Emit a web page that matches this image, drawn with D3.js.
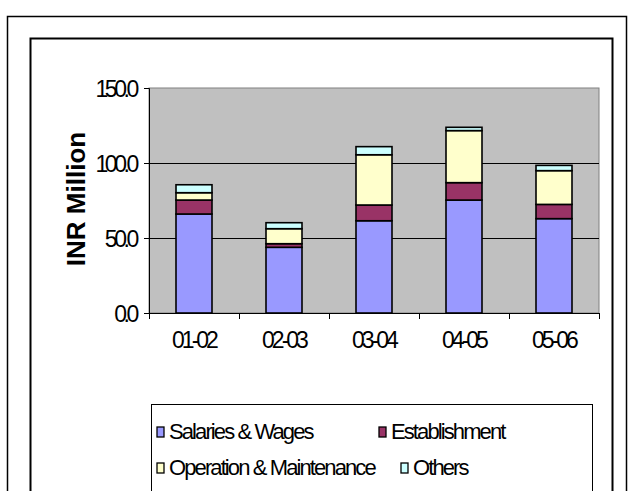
<!DOCTYPE html>
<html>
<head>
<meta charset="utf-8">
<script src="https://cdn.jsdelivr.net/npm/d3@7"></script>
<style>
  html, body { margin: 0; padding: 0; background: #fff; }
  svg { display: block; font-family: "Liberation Sans", Arial, sans-serif; }
</style>
</head>
<body>
<svg id="chart" width="632" height="491"></svg>
<script>
// Annual expenditure by head, INR million
const years = ["01-02", "02-03", "03-04", "04-05", "05-06"];
const salaries = [66.0, 43.8, 61.5, 75.3, 62.9];
const establishment = [9.3, 2.4, 10.5, 11.6, 9.5];
const operation = [4.9, 10.0, 33.5, 34.7, 22.5];
const others = [5.3, 4.0, 5.4, 2.2, 3.5];
const seriesNames = ["Salaries & Wages", "Establishment", "Operation & Maintenance", "Others"];
const seriesColors = ["#9999FF", "#993366", "#FFFFCC", "#CCFFFF"];
const yTicks = [0, 50, 100, 150];

const svg = d3.select("#chart");

// Outer and inner frames
svg.append("rect").attr("x", 7.5).attr("y", 16.5).attr("width", 619).attr("height", 490)
  .attr("fill", "#fff").attr("stroke", "#000").attr("stroke-width", 1.5);
svg.append("rect").attr("x", 30.5).attr("y", 38.5).attr("width", 582).attr("height", 470)
  .attr("fill", "#fff").attr("stroke", "#000").attr("stroke-width", 2);

const plot = { left: 149, right: 599, top: 88, bottom: 313 };

const x = d3.scaleBand().domain(years).range([plot.left, plot.right]).paddingInner(0.6).paddingOuter(0.3);
const xCat = d3.scaleBand().domain(years).range([plot.left, plot.right]);
const y = d3.scaleLinear().domain([0, 150]).range([plot.bottom, plot.top]);

// Plot background
svg.append("rect")
  .attr("x", plot.left).attr("y", plot.top)
  .attr("width", plot.right - plot.left).attr("height", plot.bottom - plot.top)
  .attr("fill", "#C0C0C0").attr("stroke", "#808080").attr("stroke-width", 1);

// Gridlines
svg.append("g").selectAll("line")
  .data(yTicks.filter(t => t > 0 && t < 150))
  .join("line")
  .attr("x1", plot.left).attr("x2", plot.right)
  .attr("y1", d => Math.round(y(d)) + 0.5).attr("y2", d => Math.round(y(d)) + 0.5)
  .attr("stroke", "#000").attr("stroke-width", 1);

// Stacked bars
const rows = years.map((yr, i) => ({
  year: yr, s0: salaries[i], s1: establishment[i], s2: operation[i], s3: others[i]
}));
const stack = d3.stack().keys(["s0", "s1", "s2", "s3"])(rows);

svg.append("g").selectAll("g")
  .data(stack)
  .join("g")
  .attr("fill", (d, i) => seriesColors[i])
  .selectAll("rect")
  .data(d => d)
  .join("rect")
  .attr("x", d => x(d.data.year))
  .attr("width", x.bandwidth())
  .attr("y", d => y(d[1]))
  .attr("height", d => y(d[0]) - y(d[1]))
  .attr("stroke", "#000").attr("stroke-width", 1.6);

// Y axis
const yAxis = svg.append("g")
  .attr("transform", `translate(${plot.left},0)`)
  .call(d3.axisLeft(y).tickValues(yTicks).tickFormat(d3.format(".1f")).tickSize(5).tickPadding(5));
yAxis.select(".domain").attr("stroke", "#000").attr("stroke-width", 1);
yAxis.selectAll(".tick line").attr("stroke", "#000");
yAxis.selectAll("text")
  .attr("font-size", 23).attr("fill", "#000")
  .attr("dy", "0.36em")
  .attr("dx", "-3px")
  .attr("font-family", "'Liberation Sans', Arial, sans-serif")
  .style("letter-spacing", "-3.4px");

// X axis with ticks between categories
const xAxis = svg.append("g").attr("transform", `translate(0,${plot.bottom})`);
xAxis.append("line")
  .attr("x1", plot.left).attr("x2", plot.right).attr("y1", 0.5).attr("y2", 0.5)
  .attr("stroke", "#000");
const bounds = years.map(d => xCat(d)).concat([plot.right]);
xAxis.selectAll("line.tk").data(bounds).join("line").attr("class", "tk")
  .attr("x1", d => d + 0.5).attr("x2", d => d + 0.5).attr("y1", 0).attr("y2", 6)
  .attr("stroke", "#000");
xAxis.selectAll("text").data(years).join("text")
  .attr("x", d => xCat(d) + xCat.bandwidth() / 2)
  .attr("y", 35)
  .attr("text-anchor", "middle")
  .attr("font-size", 23)
  .style("letter-spacing", "-3px")
  .text(d => d);

// Y axis title
svg.append("text")
  .attr("transform", "translate(85,199) rotate(-90)")
  .attr("text-anchor", "middle")
  .attr("font-size", 26).attr("font-weight", "bold")
  .text("INR Million");

// Legend
const legend = svg.append("g");
legend.append("rect").attr("x", 151.5).attr("y", 404.5).attr("width", 441).attr("height", 100)
  .attr("fill", "#fff").attr("stroke", "#000").attr("stroke-width", 1);
const legendPos = [[157, 431], [379, 431], [157, 467], [401, 467]];
const items = legend.selectAll("g.item").data(seriesNames).join("g").attr("class", "item")
  .attr("transform", (d, i) => `translate(${legendPos[i][0]},${legendPos[i][1]})`);
items.append("rect").attr("x", 0).attr("y", -4).attr("width", 7).attr("height", 10)
  .attr("fill", (d, i) => seriesColors[i]).attr("stroke", "#000").attr("stroke-width", 1.3);
items.append("text").attr("x", 12).attr("y", 8)
  .attr("font-size", 22).style("letter-spacing", "-1.9px")
  .text(d => d);
</script>
</body>
</html>
